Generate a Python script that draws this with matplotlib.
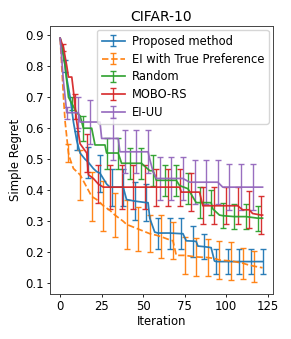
import numpy as np
import matplotlib
matplotlib.use("Agg")
import matplotlib.pyplot as plt

title = "CIFAR-10"
xlabel = "Iteration"
ylabel = "Simple Regret"
labels = ["Proposed method", "EI with True Preference", "Random", "MOBO-RS", "EI-UU"]
colors = ["#1f77b4", "#ff7f0e", "#2ca02c", "#d62728", "#9467bd"]
styles = ["-", "--", "-", "-", "-"]

# mean curve vertices (iteration, simple regret), error = 0 means no error bar there
prop_x = [0, 2, 3, 4, 6, 8, 10, 12, 15, 17, 20, 22, 24, 28, 30, 31, 38, 40, 45, 52, 53, 54, 57, 59, 66, 73, 74, 76, 80, 82, 83, 87, 91, 93, 94, 101, 108, 115, 122]
prop_y = [0.89, 0.84, 0.80, 0.76, 0.70, 0.62, 0.56, 0.52, 0.50, 0.49, 0.47, 0.46, 0.455, 0.42, 0.41, 0.41, 0.41, 0.37, 0.365, 0.36, 0.36, 0.31, 0.265, 0.262, 0.262, 0.26, 0.26, 0.237, 0.236, 0.235, 0.22, 0.218, 0.215, 0.172, 0.17, 0.17, 0.17, 0.17, 0.17]
prop_e = [0, 0, 0.02, 0, 0, 0, 0.03, 0, 0, 0.05, 0, 0, 0.06, 0, 0, 0.06, 0.06, 0, 0.06, 0.06, 0, 0, 0, 0.05, 0.05, 0.05, 0, 0, 0.05, 0, 0, 0.04, 0, 0, 0.04, 0.04, 0.04, 0.04, 0.04]

ei_x = [0, 2, 3, 5, 6, 8, 10, 12, 15, 19, 22, 26, 30, 33, 38, 40, 47, 54, 58, 61, 66, 68, 70, 75, 82, 89, 93, 96, 103, 110, 113, 117, 122]
ei_y = [0.89, 0.70, 0.62, 0.52, 0.50, 0.47, 0.46, 0.45, 0.42, 0.38, 0.37, 0.35, 0.335, 0.32, 0.30, 0.29, 0.275, 0.26, 0.255, 0.25, 0.24, 0.237, 0.19, 0.19, 0.185, 0.183, 0.18, 0.175, 0.172, 0.165, 0.16, 0.155, 0.15]
ei_e = [0, 0, 0, 0.03, 0, 0, 0, 0.08, 0, 0.08, 0, 0.08, 0, 0.07, 0, 0.08, 0.07, 0.06, 0, 0.07, 0, 0.06, 0, 0.06, 0.06, 0.06, 0, 0.06, 0.06, 0.05, 0, 0.05, 0]

rand_x = [0, 3, 5, 7, 10, 12, 14, 19, 21, 27, 28, 35, 37, 42, 49, 54, 56, 58, 63, 70, 72, 77, 82, 84, 91, 92, 96, 98, 105, 112, 119, 122]
rand_y = [0.89, 0.80, 0.70, 0.68, 0.65, 0.64, 0.60, 0.60, 0.546, 0.546, 0.52, 0.52, 0.487, 0.487, 0.487, 0.463, 0.463, 0.432, 0.432, 0.432, 0.415, 0.405, 0.36, 0.36, 0.36, 0.34, 0.32, 0.318, 0.315, 0.315, 0.31, 0.31]
rand_e = [0, 0, 0, 0.02, 0, 0, 0.04, 0, 0, 0, 0.05, 0.05, 0, 0.05, 0.05, 0, 0.05, 0, 0.05, 0.05, 0, 0.05, 0, 0.05, 0.04, 0, 0, 0.04, 0.04, 0.04, 0.04, 0]

mobo_x = [0, 2, 4, 5, 7, 8, 9, 10, 12, 16, 17, 20, 23, 26, 30, 37, 44, 51, 58, 65, 72, 73, 79, 84, 86, 93, 100, 107, 110, 114, 116, 121, 122]
mobo_y = [0.89, 0.86, 0.80, 0.765, 0.765, 0.72, 0.67, 0.62, 0.55, 0.52, 0.45, 0.438, 0.42, 0.41, 0.41, 0.41, 0.41, 0.41, 0.41, 0.41, 0.41, 0.394, 0.394, 0.394, 0.35, 0.35, 0.35, 0.35, 0.337, 0.337, 0.325, 0.32, 0.32]
mobo_e = [0, 0.01, 0, 0, 0, 0, 0.04, 0, 0, 0.06, 0, 0, 0.06, 0, 0.07, 0.07, 0.07, 0.07, 0.06, 0.06, 0.06, 0, 0.06, 0, 0.06, 0.06, 0.06, 0.06, 0, 0.06, 0, 0.06, 0]

eiuu_x = [0, 2, 4, 11, 12, 18, 24, 25, 32, 35, 36, 39, 46, 53, 54, 56, 58, 60, 67, 74, 78, 81, 88, 95, 98, 102, 109, 116, 122]
eiuu_y = [0.89, 0.75, 0.65, 0.65, 0.62, 0.62, 0.62, 0.567, 0.567, 0.567, 0.524, 0.524, 0.524, 0.524, 0.50, 0.46, 0.438, 0.438, 0.438, 0.438, 0.426, 0.426, 0.426, 0.426, 0.41, 0.41, 0.41, 0.41, 0.41]
eiuu_e = [0, 0, 0.02, 0.05, 0, 0.07, 0, 0, 0.07, 0, 0, 0.07, 0.07, 0.07, 0, 0, 0, 0.07, 0.07, 0.07, 0, 0.07, 0.07, 0.07, 0, 0.075, 0.075, 0.075, 0]

series = [(prop_x, prop_y, prop_e), (ei_x, ei_y, ei_e), (rand_x, rand_y, rand_e),
          (mobo_x, mobo_y, mobo_e), (eiuu_x, eiuu_y, eiuu_e)]

plt.rcParams["font.family"] = ["DejaVu Sans"]
plt.rcParams["font.size"] = 8.4

fig = plt.figure(figsize=(2.91, 3.39), dpi=100)
ax = fig.add_axes([0.172, 0.133, 0.765, 0.790])

for (x, y, e), lab, c, ls in zip(series, labels, colors, styles):
    x = np.asarray(x); y = np.asarray(y); e = np.asarray(e)
    ax.errorbar(x, y, yerr=e, errorevery=(e > 0), color=c, ls=ls, lw=1.25,
                capsize=2.4, capthick=1.0, elinewidth=1.0, label=lab, alpha=0.95)

ax.set_title(title, fontsize=10, pad=4)
ax.set_xlabel(xlabel, labelpad=1)
ax.set_ylabel(ylabel, labelpad=2)
ax.set_xticks([0, 25, 50, 75, 100, 125])
ax.set_yticks([0.1, 0.2, 0.3, 0.4, 0.5, 0.6, 0.7, 0.8, 0.9])
ax.tick_params(length=2.5, width=0.6, pad=2)
for s in ax.spines.values():
    s.set_linewidth(0.7)
    s.set_color("#444444")
ax.legend(loc="upper right", fontsize=8.3, handlelength=2.0, borderpad=0.4,
          labelspacing=0.42, handletextpad=0.6, borderaxespad=0.35, framealpha=0.8)
fig.savefig("out.png", dpi=100)
